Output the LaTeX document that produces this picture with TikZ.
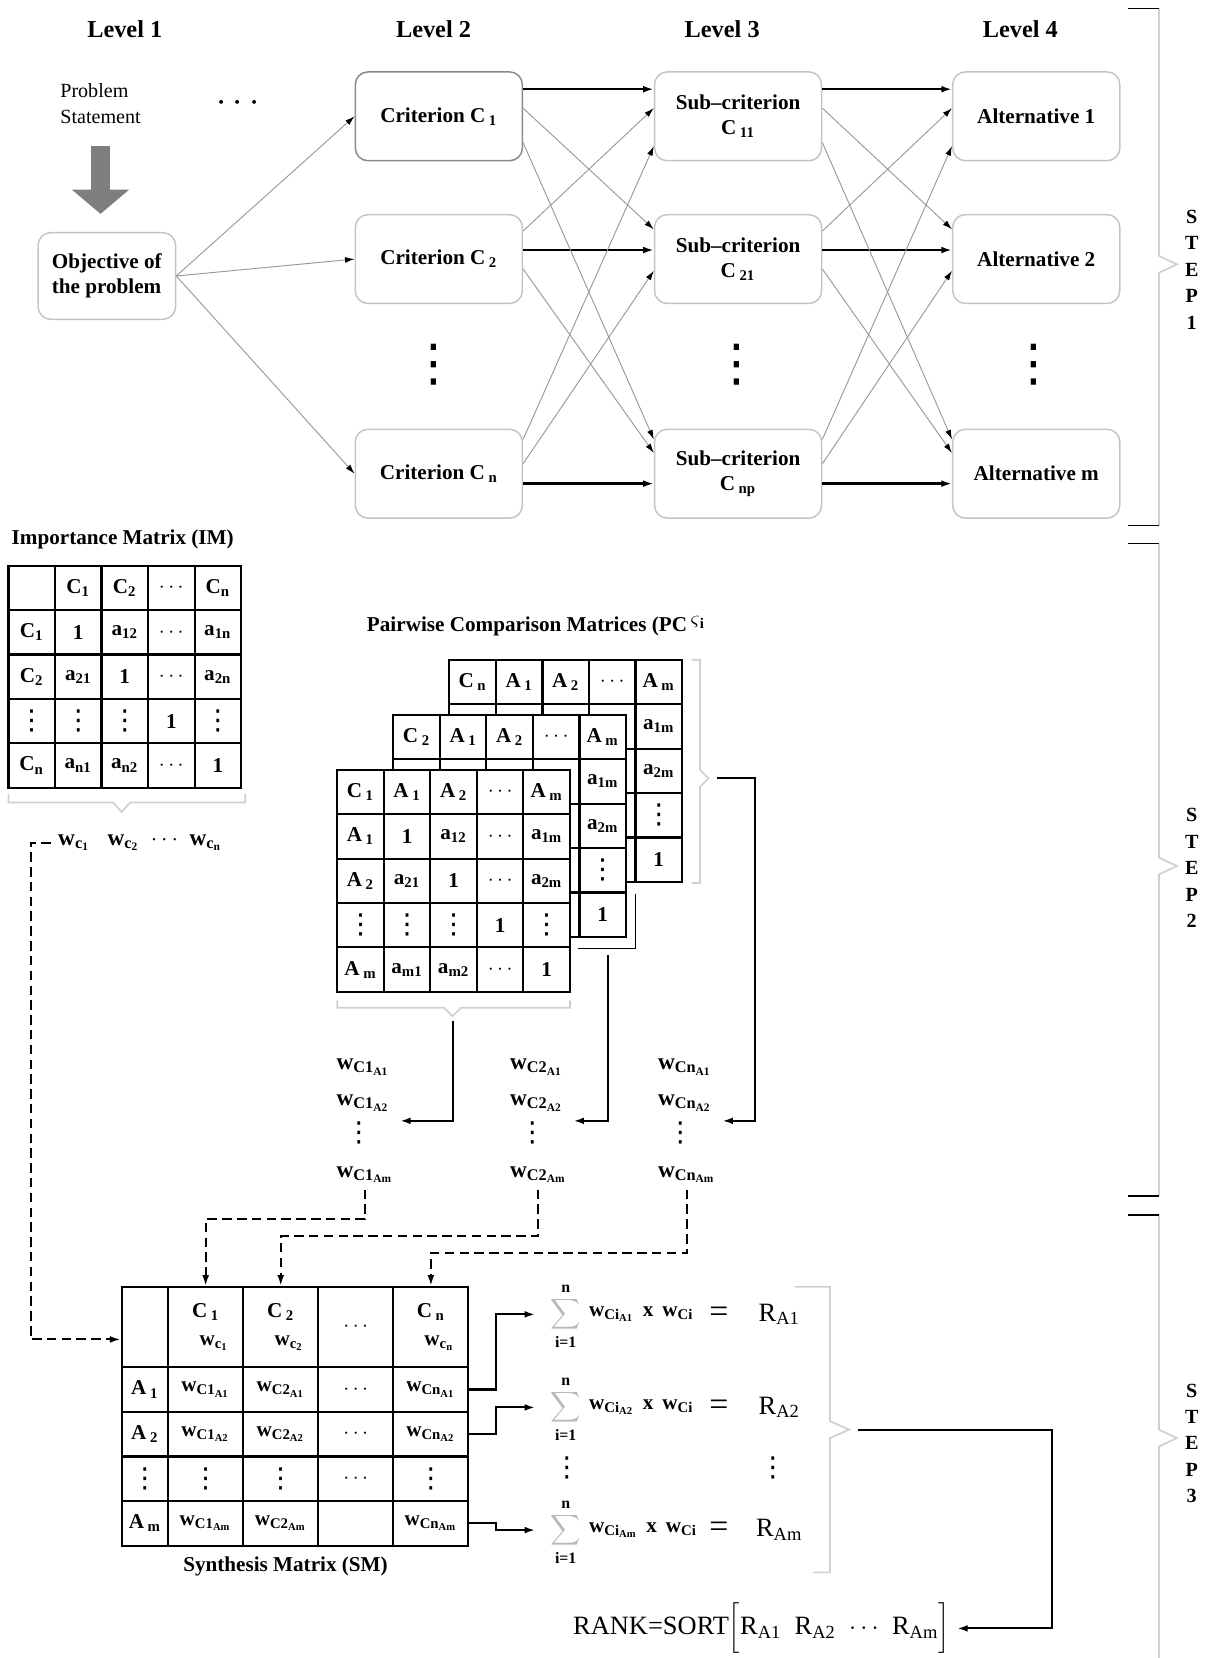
\documentclass[tikz,border=0pt]{standalone}
\usepackage{fontspec}
\setmainfont{Liberation Serif}
\newfontfamily\dotsfont{DejaVu Sans}
\usetikzlibrary{arrows.meta,calc,positioning}
\definecolor{boxline}{HTML}{C4C4C4}
\definecolor{boxdark}{HTML}{8A8A8A}
\definecolor{linkgray}{HTML}{9A9A9A}
\definecolor{bracegray}{HTML}{CFCFCF}
\definecolor{arrowgray}{HTML}{7E7E7E}
\newcommand{\sbs}[1]{\textsubscript{#1}}
\newcommand{\wc}[1]{w\textsubscript{c\textsubscript{#1}}}
\newcommand{\wsub}[2]{w\textsubscript{#1\textsubscript{#2}}}
\newcommand{\vd}{{\dotsfont\mdseries\fontsize{13}{13}\selectfont ⋮}}
\newcommand{\side}[3]{($(#1.north #2)!#3!(#1.south #2)$)}
% one square cell of a comparison matrix
\newcommand{\sqcell}[6]{\node[cell] (#1-#4-#5) at ({#2+22+#5*44},{#3+21+#4*42}) {#6};}
% front pairwise comparison matrix, all cells shown
\newcommand{\pcmat}[4]{%
  \foreach \e [count=\ci from 0] in {#4,A\,\sbs{1},A\,\sbs{2},$\cdots$,A\,\sbs{m}} {\sqcell{#1}{#2}{#3}{0}{\ci}{\e}}
  \foreach \e [count=\ci from 0] in {A\,\sbs{1},1,a\sbs{12},$\cdots$,a\sbs{1m}} {\sqcell{#1}{#2}{#3}{1}{\ci}{\e}}
  \foreach \e [count=\ci from 0] in {A\,\sbs{2},a\sbs{21},1,$\cdots$,a\sbs{2m}} {\sqcell{#1}{#2}{#3}{2}{\ci}{\e}}
  \foreach \e [count=\ci from 0] in {\vd,\vd,\vd,1,\vd} {\sqcell{#1}{#2}{#3}{3}{\ci}{\e}}
  \foreach \e [count=\ci from 0] in {A\,\sbs{m},a\sbs{m1},a\sbs{m2},$\cdots$,1} {\sqcell{#1}{#2}{#3}{4}{\ci}{\e}}
}
% stacked matrix behind: only header row and last column can be seen
\newcommand{\pcback}[4]{%
  \foreach \e [count=\ci from 0] in {#4,A\,\sbs{1},A\,\sbs{2},$\cdots$,A\,\sbs{m}} {\sqcell{#1}{#2}{#3}{0}{\ci}{\e}}
  \foreach \e [count=\ci from 0] in {{},{},{},{},a\sbs{1m}} {\sqcell{#1}{#2}{#3}{1}{\ci}{\e}}
  \foreach \e [count=\ci from 0] in {{},{},{},{},a\sbs{2m}} {\sqcell{#1}{#2}{#3}{2}{\ci}{\e}}
  \foreach \e [count=\ci from 0] in {{},{},{},{},\vd} {\sqcell{#1}{#2}{#3}{3}{\ci}{\e}}
  \foreach \e [count=\ci from 0] in {{},{},{},{},1} {\sqcell{#1}{#2}{#3}{4}{\ci}{\e}}
}
% one cell of the synthesis matrix
\newcommand{\smcell}[3]{%
  \pgfmathsetmacro\smx{#2==0 ? 137 : 123.5+#2*71}%
  \pgfmathsetmacro\smw{#2==0 ? 22 : 35.5}%
  \pgfmathsetmacro\smy{#1==0 ? 1255 : 1293+21.1+(#1-1)*42.2}%
  \pgfmathsetmacro\smh{#1==0 ? 38 : 21.1}%
  \node[cell, minimum width=\smw pt, minimum height=\smh pt] (sm-#1-#2) at (\smx,\smy) {#3};}
\tikzset{
  every node/.style={font=\bfseries\fontsize{10}{12}\selectfont, text=black},
  lvl/.style={font=\bfseries\fontsize{11.5}{14}\selectfont},
  plain/.style={font=\fontsize{9.5}{12.5}\selectfont},
  box/.style={draw=boxline, rounded corners=6pt, line width=0.7pt, align=center,
              minimum width=79pt, minimum height=42pt, inner sep=3pt},
  cell/.style={draw, line width=1pt, fill=white, minimum width=22pt, minimum height=21pt,
               inner sep=0pt, align=center},
  lnk/.style={draw=linkgray, line width=0.45pt, -{Latex[length=4.5pt, width=2.8pt, color=black]}},
  mainlnk/.style={line width=1.1pt, -{Latex[length=5pt, width=3.2pt]}},
  conn/.style={line width=1pt, -{Latex[length=5pt, width=3.2pt]}},
  dasharr/.style={line width=0.9pt, dash pattern=on 4.5pt off 2.5pt, -{Latex[length=5pt, width=3.2pt]}},
  brace/.style={draw=bracegray, line width=0.8pt},
  tick/.style={line width=0.9pt},
  steplbl/.style={align=center, font=\bfseries\fontsize{9.5}{12.5}\selectfont},
  bigarr/.style={draw=arrowgray, line width=9pt, -{Triangle[length=11.5pt, width=26.5pt]}},
  wlist/.style={align=left, inner sep=3pt, font=\bfseries\fontsize{11}{17}\selectfont},
  rtxt/.style={font=\fontsize{12.5}{14}\selectfont},
  sigma/.style={text=gray!55, inner sep=1pt, font=\fontsize{11}{13}\selectfont},
  lim/.style={font=\bfseries\fontsize{7.5}{9}\selectfont, inner sep=1pt},
  vdot/.style={font=\dotsfont\mdseries\fontsize{24}{24}\selectfont},
}
\begin{document}
\begin{tikzpicture}[x=0.5pt, y=-0.5pt]
  \useasboundingbox (0,0) rectangle (1147,1568);

  % STEP 1: hierarchy
  \node[lvl] (lv1) at (118,28) {Level 1};
  \node[lvl] (lv2) at (410,28) {Level 2};
  \node[lvl] (lv3) at (683,28) {Level 3};
  \node[lvl] (lv4) at (965,28) {Level 4};

  \node[plain, align=left, anchor=west] (ps) at (50,98) {Problem\\Statement};
  \node[font=\bfseries\fontsize{18}{18}\selectfont] (psdots) at (225,98) {$\cdots$};
  \node[box, minimum width=65pt, minimum height=41pt, align=left] (obj) at (101,261) {Objective of\\the problem};
  \draw[bigarr, shorten <=7pt, shorten >=8.5pt] (ps.south) -- (ps.south |- obj.north);

  \node[box, draw=boxdark] (crit1) at (415,110) {Criterion C\,\sbs{1}};
  \node[box] (crit2) at (415,245) {Criterion C\,\sbs{2}};
  \node[box] (critn) at (415,448) {Criterion C\,\sbs{n}};
  \node[box] (sub1) at (698,110) {Sub--criterion\\C\,\sbs{11}};
  \node[box] (sub2) at (698,245) {Sub--criterion\\C\,\sbs{21}};
  \node[box] (subn) at (698,448) {Sub--criterion\\C\,\sbs{np}};
  \node[box] (alt1) at (980,110) {Alternative 1};
  \node[box] (alt2) at (980,245) {Alternative 2};
  \node[box] (altn) at (980,448) {Alternative m};
  \node[vdot] (vd2) at (410,345) {⋮};
  \node[vdot] (vd3) at (697,345) {⋮};
  \node[vdot] (vd4) at (978,345) {⋮};

  \foreach \b in {crit1,crit2,critn} { \draw[lnk] (obj.east) -- (\b.west); }
  \foreach \u/\v in {crit/sub, sub/alt} {
    \draw[mainlnk] \side{\u1}{east}{0.2} -- \side{\v1}{west}{0.2};
    \draw[mainlnk] \side{\u2}{east}{0.4} -- \side{\v2}{west}{0.4};
    \draw[mainlnk] \side{\u n}{east}{0.61} -- \side{\v n}{west}{0.61};
    \foreach \p/\fp/\q/\fq in {1/0.41/2/0.17, 1/0.79/n/0.12, 2/0.19/1/0.41, 2/0.61/n/0.27, n/0.12/1/0.83, n/0.39/2/0.63}
      { \draw[lnk] \side{\u\p}{east}{\fp} -- \side{\v\q}{west}{\fq}; }
  }

  % STEP 2: importance and pairwise comparison matrices
  \node[anchor=west] (imt) at (4,510) {Importance Matrix (IM)};
  \foreach \e [count=\ci from 0] in {{},C\sbs{1},C\sbs{2},$\cdots$,C\sbs{n}} {\sqcell{im}{8}{535}{0}{\ci}{\e}}
  \foreach \e [count=\ci from 0] in {C\sbs{1},1,a\sbs{12},$\cdots$,a\sbs{1n}} {\sqcell{im}{8}{535}{1}{\ci}{\e}}
  \foreach \e [count=\ci from 0] in {C\sbs{2},a\sbs{21},1,$\cdots$,a\sbs{2n}} {\sqcell{im}{8}{535}{2}{\ci}{\e}}
  \foreach \e [count=\ci from 0] in {\vd,\vd,\vd,1,\vd} {\sqcell{im}{8}{535}{3}{\ci}{\e}}
  \foreach \e [count=\ci from 0] in {C\sbs{n},a\sbs{n1},a\sbs{n2},$\cdots$,1} {\sqcell{im}{8}{535}{4}{\ci}{\e}}
  \draw[brace] (8,751) -- (8,759) -- (107,759) -- (115,768) -- (123,759) -- (232,759) -- (232,751);
  \node[anchor=west, font=\bfseries\fontsize{11}{13}\selectfont] (wim) at (48,797) {\wc{1}\enspace\ \wc{2}\enspace$\cdots$\enspace\wc{n}};

  \node[anchor=west] (pct) at (340,592) {Pairwise Comparison Matrices (PC\,\raisebox{3pt}{$\varsigma$\sbs{i}}};
  \pcback{pcn}{425}{624}{C\,\sbs{n}}
  \pcback{pc2}{372}{676}{C\,\sbs{2}}
  \pcmat{pc1}{319}{728}{C\,\sbs{1}}
  \draw[brace] (319,946) -- (319,953) -- (420,953) -- (428,961) -- (436,953) -- (539,953) -- (539,946);
  \coordinate (pcb1) at (428,966);
  \draw[tick] (547,897) -- (601,897) -- (601,845);
  \coordinate (pcb2) at (575,903);
  \draw[brace] (654,624) -- (662,624) -- (662,728) -- (670,736) -- (662,744) -- (662,835) -- (654,835);
  \coordinate (pcb3) at (678,736);

  \node[wlist, anchor=west] (wl1) at (312,1060) {\wsub{C1}{A1}\\\wsub{C1}{A2}\\\hspace{4pt}\vd\\\wsub{C1}{Am}};
  \node[wlist, anchor=west] (wl2) at (476,1060) {\wsub{C2}{A1}\\\wsub{C2}{A2}\\\hspace{4pt}\vd\\\wsub{C2}{Am}};
  \node[wlist, anchor=west] (wl3) at (616,1060) {\wsub{Cn}{A1}\\\wsub{Cn}{A2}\\\hspace{4pt}\vd\\\wsub{Cn}{Am}};
  \draw[conn] (pcb1) |- (wl1.east);
  \draw[conn] (pcb2) |- (wl2.east);
  \draw[conn] (pcb3) -- ++(36,0) |- (wl3.east);

  % STEP 3: synthesis and ranking
  \foreach \e [count=\ci from 0] in {{},{C\,\sbs{1}\\[1pt]\hspace{8pt}\wc{1}},{C\,\sbs{2}\\[1pt]\hspace{8pt}\wc{2}},$\cdots$,{C\,\sbs{n}\\[1pt]\hspace{8pt}\wc{n}}} {\smcell{0}{\ci}{\e}}
  \foreach \e [count=\ci from 0] in {A\,\sbs{1},\wsub{C1}{A1},\wsub{C2}{A1},$\cdots$,\wsub{Cn}{A1}} {\smcell{1}{\ci}{\e}}
  \foreach \e [count=\ci from 0] in {A\,\sbs{2},\wsub{C1}{A2},\wsub{C2}{A2},$\cdots$,\wsub{Cn}{A2}} {\smcell{2}{\ci}{\e}}
  \foreach \e [count=\ci from 0] in {\vd,\vd,\vd,$\cdots$,\vd} {\smcell{3}{\ci}{\e}}
  \foreach \e [count=\ci from 0] in {A\,\sbs{m},\wsub{C1}{Am},\wsub{C2}{Am},{},\wsub{Cn}{Am}} {\smcell{4}{\ci}{\e}}
  \node (smt) at (270,1481) {Synthesis Matrix (SM)};

  \draw[dasharr] (wim.west) -- ++(-19,0) |- ($(sm-0-0.north west)!0.65!(sm-0-0.south west)$);
  \draw[dasharr] (wl1.south) -- ++(0,28) -| (sm-0-1.north);
  \draw[dasharr] (wl2.south) -- ++(0,44) -| (sm-0-2.north);
  \draw[dasharr] (wl3.south) -- ++(0,60) -| (sm-0-4.north);

  \foreach \k/\y/\a in {1/1243/A1, 2/1331/A2, m/1447/Am} {
    \node[sigma, label={[lim]above:n}, label={[lim]below:i=1}] (sum\k) at (535,\y) {$\displaystyle\sum$};
    \node[anchor=west] (term\k) at (550,\y) {\wsub{Ci}{\a}\, x\, w\sbs{Ci}};
    \node[font=\fontsize{16}{16}\selectfont] (eq\k) at (680,\y) {=};
    \node[rtxt] (r\k) at (737,\y) {R\sbs{\a}};
  }
  \node (sdots) at (536,1388) {\vd};
  \node (rdots) at (731,1388) {\vd};
  \draw[conn, shorten >=6pt] (sm-1-4.east) -- ++(25,0) |- (sum1.west);
  \draw[conn, shorten >=6pt] (sm-2-4.east) -- ++(25,0) |- (sum2.west);
  \draw[conn, shorten >=6pt] (sm-4-4.east) -- ++(25,0) |- (summ.west);
  \draw[brace] (752,1217) -- (785,1217) -- (785,1344) -- (803,1352) -- (785,1360) -- (785,1487) -- (769,1487);
  \coordinate (fbr) at (811,1352);

  \node[rtxt, anchor=west] (rank) at (535,1540) {RANK=SORT$\bigg[$R\sbs{A1}\enspace R\sbs{A2}\enspace$\cdots$\enspace R\sbs{Am}$\bigg]$};
  \draw[conn] (fbr) -- ++(184,0) |- (rank.east);

  % step braces on the right
  \draw[brace] (1096,8) -- (1096,242) -- (1113,250) -- (1096,258) -- (1096,497);
  \draw[brace] (1096,514) -- (1096,811) -- (1113,819) -- (1096,827) -- (1096,1131);
  \draw[brace] (1096,1149) -- (1096,1352) -- (1113,1360) -- (1096,1368) -- (1096,1568);
  \foreach \t in {8,497,514,1131,1149} { \draw[tick] (1067,\t) -- (1096,\t); }
  \node[steplbl] (st1) at (1127,255) {S\\T\\E\\P\\1};
  \node[steplbl] (st2) at (1127,821) {S\\T\\E\\P\\2};
  \node[steplbl] (st3) at (1127,1365) {S\\T\\E\\P\\3};
\end{tikzpicture}
\end{document}
